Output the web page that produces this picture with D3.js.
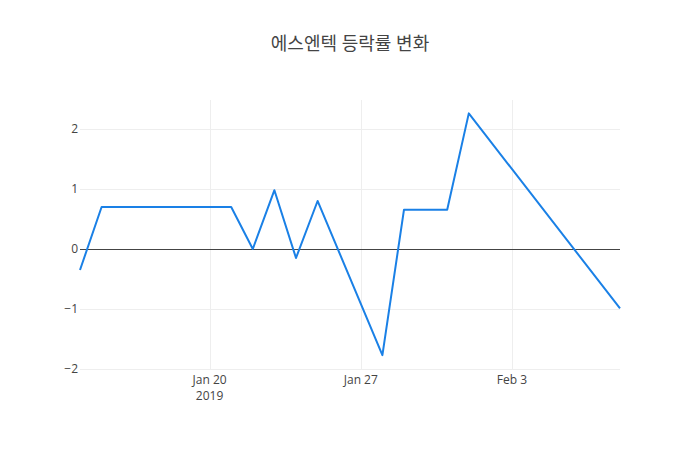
<!DOCTYPE html>
<html><head><meta charset="utf-8">
<script src="https://cdn.jsdelivr.net/npm/d3@7"></script>
<style>body{margin:0;background:#fff}</style>
</head><body>
<svg id="chart" width="700" height="450"></svg>
<script>
const dates = ["2019-01-14","2019-01-15","2019-01-16","2019-01-17","2019-01-18","2019-01-21","2019-01-22","2019-01-23","2019-01-24","2019-01-25","2019-01-28","2019-01-29","2019-01-30","2019-01-31","2019-02-01","2019-02-08"];
const values = [-0.35,0.70,0.70,0.70,0.70,0.70,0.00,0.98,-0.15,0.80,-1.77,0.655,0.655,0.655,2.26,-0.99];
const yTicks = [-2,-1,0,1,2];
const xTickDates = ["2019-01-20","2019-01-27","2019-02-03"];
const xTickLabels = [["Jan 20","2019"],["Jan 27"],["Feb 3"]];
const title = "에스엔텍 등락률 변화";

const parse = d3.timeParse("%Y-%m-%d");
const data = dates.map((d,i)=>({date:parse(d), value:values[i]}));
const svg = d3.select("#chart");
const L=80, R=620, T=100, B=370;
const x = d3.scaleTime().domain(d3.extent(data,d=>d.date)).range([L,R]);
const y = d3.scaleLinear().domain([-2.017,2.483]).range([B,T]);
const font = "'Open Sans','Noto Sans CJK KR',sans-serif";
const px = v => Math.round(v)+0.5;

// gridlines
svg.append("g").selectAll("line").data(xTickDates).join("line")
  .attr("x1",d=>px(x(parse(d)))).attr("x2",d=>px(x(parse(d))))
  .attr("y1",T).attr("y2",B).attr("stroke","#eee").attr("stroke-width",1)
  .attr("shape-rendering","crispEdges");
svg.append("g").selectAll("line").data(yTicks.filter(t=>t!==0)).join("line")
  .attr("x1",L).attr("x2",R).attr("y1",d=>px(y(d))).attr("y2",d=>px(y(d)))
  .attr("stroke","#eee").attr("stroke-width",1).attr("shape-rendering","crispEdges");
// zero line
svg.append("line").attr("x1",L).attr("x2",R).attr("y1",px(y(0))).attr("y2",px(y(0)))
  .attr("stroke","#444").attr("stroke-width",1).attr("shape-rendering","crispEdges");

// y tick labels
svg.append("g").selectAll("text").data(yTicks).join("text")
  .attr("x",L-2).attr("y",d=>y(d)).attr("dy","0.35em")
  .attr("text-anchor","end").attr("font-family",font).attr("font-size",12)
  .attr("fill","#444").text(d=>d<0?"\u2212"+Math.abs(d):d);

// x tick labels
const xt = svg.append("g").selectAll("text").data(xTickDates).join("text")
  .attr("x",d=>x(parse(d))).attr("y",B+14).attr("text-anchor","middle")
  .attr("font-family",font).attr("font-size",12).attr("fill","#444");
xt.each(function(d,i){
  const t=d3.select(this);
  xTickLabels[i].forEach((s,j)=>{
    t.append("tspan").attr("x",x(parse(d))).attr("dy",j===0?0:16).text(s);
  });
});

// line
const line = d3.line().x(d=>x(d.date)).y(d=>y(d.value));
svg.append("path").datum(data).attr("d",line).attr("fill","none")
  .attr("stroke","#1a80e6").attr("stroke-width",2).attr("stroke-linejoin","round");

// title
svg.append("text").attr("x",350).attr("y",50).attr("text-anchor","middle")
  .attr("font-family",font).attr("font-size",18).attr("fill","#444").text(title);
</script>
</body></html>
